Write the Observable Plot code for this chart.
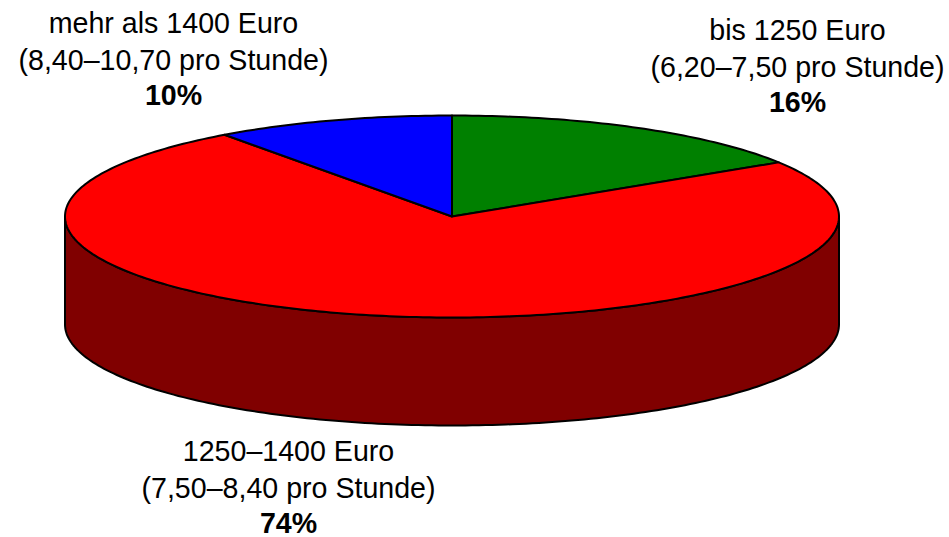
<!DOCTYPE html>
<html>
<head>
<meta charset="utf-8">
<script src="https://cdn.jsdelivr.net/npm/d3@7"></script>
<script src="https://cdn.jsdelivr.net/npm/@observablehq/plot@0.6"></script>
<style>
html,body{margin:0;padding:0;background:#fff}
svg{display:block}
</style>
</head>
<body>
<div id="chart"></div>
<script>
// Data, clockwise from twelve o'clock
const categories = ["bis 1250 Euro", "1250–1400 Euro", "mehr als 1400 Euro"];
const hourly = ["(6,20–7,50 pro Stunde)", "(7,50–8,40 pro Stunde)", "(8,40–10,70 pro Stunde)"];
const shares = [16, 74, 10];
const topColors = ["#008000", "#ff0000", "#0000ff"];
const wallColor = "#800000";

// Layout
const W = 949, H = 537;
const cx = 451.5, cy = 216, rx = 387, ry = 101, depth = 108;
const labelAt = [[797, 39], [288, 460], [173, 32]];
const lineGaps = [0, 37, 72];
const fontSize = 28.6;

// Slices are sampled on the unit ellipse; the scales stretch it to the pie's shape.
const total = d3.sum(shares);
const cum = d3.cumsum(shares);
const rim = (a, dz = 0) => ({x: Math.sin(a), y: -Math.cos(a) + dz});
const arc = (a0, a1, dz = 0) => {
  const n = Math.ceil(Math.abs(a1 - a0) / (Math.PI / 180));
  return d3.range(n + 1).map(i => rim(a0 + (a1 - a0) * i / n, dz));
};
const slices = shares.map((s, i) => {
  const a0 = ((cum[i] - s) / total) * 2 * Math.PI;
  const a1 = (cum[i] / total) * 2 * Math.PI;
  const c = {x: 0, y: 0};
  return [c, ...arc(a0, a1), c];
});
const dz = depth / ry;
const wall = [...arc(Math.PI / 2, 3 * Math.PI / 2), ...arc(3 * Math.PI / 2, Math.PI / 2, dz)];
wall.push(wall[0]);

const common = {x: "x", y: "y", stroke: "#000", strokeWidth: 2, strokeLinejoin: "round", curve: "linear"};
const marks = [
  Plot.line(wall, {...common, fill: wallColor}),
  ...slices.map((pts, i) => Plot.line(pts, {...common, fill: topColors[i]}))
];

categories.forEach((c, i) => {
  const [lx, ly] = labelAt[i];
  [c, hourly[i], shares[i] + "%"].forEach((t, j) => {
    marks.push(Plot.text([t], {
      text: d => d,
      frameAnchor: "top-left",
      dx: lx, dy: ly + lineGaps[j],
      lineAnchor: "bottom",
      textAnchor: "middle",
      fontSize,
      fontWeight: j === 2 ? "bold" : "normal",
      fill: "#000",
      fontFamily: "'Liberation Sans', Arial, sans-serif"
    }));
  });
});

const chart = Plot.plot({
  width: W, height: H,
  margin: 0,
  style: {background: "#fff", overflow: "visible"},
  x: {domain: [-1, 1], range: [cx - rx, cx + rx], axis: null},
  y: {domain: [-1, 1], range: [cy - ry, cy + ry], axis: null},
  marks
});
document.getElementById("chart").appendChild(chart);
</script>
</body>
</html>
